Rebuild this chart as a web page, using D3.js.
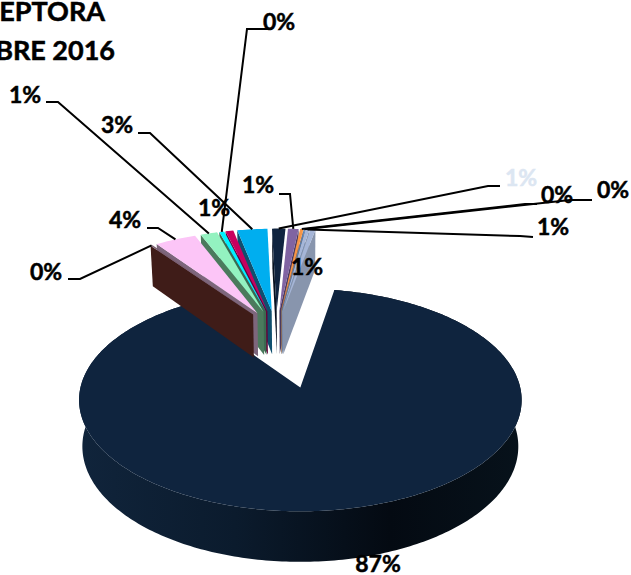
<!DOCTYPE html>
<html>
<head>
<meta charset="utf-8">
<script src="https://d3js.org/d3.v7.min.js"></script>
<style>
html, body { margin: 0; padding: 0; background: #fff; }
svg { display: block; }
text { font-family: Lato, "Open Sans", sans-serif; font-weight: 700; stroke-width: 0.5; }
</style>
</head>
<body>
<svg width="631" height="575"></svg>
<script>
// values, first slice is the big one then clockwise
var slices = ["a", "b", "c", "d", "e", "f", "g", "h", "i", "j", "k", "l", "m"];
var values = [87.2, 0.2, 3.7, 1.5, 0.45, 0.7, 2.7, 1.2, 0.95, 0.3, 0.1, 0.35, 0.45];
var labels = ["87%", "0%", "4%", "1%", "0%", "1%", "3%", "1%", "1%", "0%", "0%", "1%", "1%"];
var titleLines = ["EPTORA", "BRE 2016"];

var topColors = ["#0f243e", "#7a5f72", "#fcc5f7", "#93f2c0", "#00f0ff", "#c8005f", "#00aeef", "#10243f", "#8064a2", "#f79646", "#4f81bd", "#a6b6d8", "#a6b6d8"];
var sideColors = ["#0a1828", "#3f1c18", "#7d667c", "#4b7a5d", "#3a6a50", "#66003a", "#0f4f6e", "#081220", "#4a3a60", "#c0783a", "#3d6390", "#8895ad", "#8895ad"];
var labelColors = ["#000", "#000", "#000", "#000", "#000", "#000", "#000", "#dce6f2", "#000", "#000", "#000", "#000", "#000"];

// label centre, then the two leader points that go with it (null = no leader)
var labelPos = [[378, 564], [46, 272], [125, 220], [25, 95], [279, 22], [214, 208], [117, 125], [521, 178], [258, 185], [557, 195], [613, 190], [553, 227], [307, 267]];
var elbows = [null, [[68, 279], [80, 279]], [[147, 228], [158, 228]], [[46, 102], [58, 102]], [[272, 29], [247, 29]], null, [[138, 133], [150, 133]],
    [[500, 186], [488, 186]], [[279, 194], [290, 194]], [[537, 204], [525, 204]], [[592, 200], [570, 200]], [[533, 237], [520, 236]], null];

var svg = d3.select("svg");

// ground plane model: unit radius pie, seen with some perspective
var cx = 300, cy = 388, rx = 220, ry = 110, persp = 0.112, depth = 46;
var hub = [-0.115, 0.56];
var bigExplode = 0.57, smallExplode = 0.2, smallRadius = 0.97, bigNudge = -0.01;
var startDeg = 9.9;

function project(X, Z, bottom) {
    var s = 1 / (1 + persp * Z);
    var x = cx + rx * X * s, y = cy - ry * Z * s;
    if (bottom) {
        x = cx + (x - cx) * 0.985;
        y = y + depth * Math.pow(s, 0.8);
    }
    return [x, y];
}

var pie = d3.pie().sort(null)
    .startAngle(startDeg * Math.PI / 180)
    .endAngle((startDeg + 360) * Math.PI / 180);

var arcs = pie(values).map(function(d, i) {
    var mid = (d.startAngle + d.endAngle) / 2;
    var e = i == 0 ? bigExplode : smallExplode;
    return {
        i: i,
        start: d.startAngle,
        end: d.endAngle,
        mid: mid,
        r: i == 0 ? 1 : smallRadius,
        ox: hub[0] + e * Math.sin(mid) + (i == 0 ? bigNudge : 0),
        oz: hub[1] + e * Math.cos(mid)
    };
});

function rim(a, ang, bottom) {
    return project(a.ox + a.r * Math.sin(ang), a.oz + a.r * Math.cos(ang), bottom);
}

function rimPoints(a, bottom) {
    var n = Math.max(3, Math.ceil((a.end - a.start) * 60));
    return d3.range(n + 1).map(function(k) {
        return rim(a, a.start + (a.end - a.start) * k / n, bottom);
    });
}

var line = d3.line();

var defs = svg.append("defs");
var grad = defs.append("linearGradient")
    .attr("id", "wall")
    .attr("gradientUnits", "userSpaceOnUse")
    .attr("x1", 81).attr("x2", 522).attr("y1", 0).attr("y2", 0);
[[0, "#10243b"], [0.35, "#0b1b2d"], [0.7, "#040a12"], [1, "#07121b"]].forEach(function(s) {
    grad.append("stop").attr("offset", s[0]).attr("stop-color", s[1]);
});

// big slice: wall first, the top face hides the far part of it
var big = arcs[0];
svg.append("path")
    .attr("d", line(rimPoints(big, false).concat(rimPoints(big, true).reverse())) + "Z")
    .attr("fill", "url(#wall)");
svg.append("path")
    .attr("d", line([project(big.ox, big.oz, false)].concat(rimPoints(big, false))) + "Z")
    .attr("fill", topColors[0]);

// small ones from the middle of the fan outwards
var small = arcs.slice(1);
var leftSide = small.filter(function(a) { return a.mid < Math.PI * 2; }).reverse();
var rightSide = small.filter(function(a) { return a.mid >= Math.PI * 2; });

leftSide.concat(rightSide).forEach(function(a) {
    var edge = a.mid < Math.PI * 2 ? a.start : a.end;
    svg.append("path")
        .attr("d", line([
            project(a.ox, a.oz, false), rim(a, edge, false),
            rim(a, edge, true), project(a.ox, a.oz, true)
        ]) + "Z")
        .attr("fill", sideColors[a.i]);
});
leftSide.concat(rightSide).forEach(function(a) {
    svg.append("path")
        .attr("d", line([project(a.ox, a.oz, false)].concat(rimPoints(a, false))) + "Z")
        .attr("fill", topColors[a.i]);
});

// leaders
arcs.forEach(function(a) {
    if (!elbows[a.i]) return;
    svg.append("path")
        .attr("d", line(elbows[a.i].concat([rim(a, a.mid, false)])))
        .attr("fill", "none")
        .attr("stroke", "#000")
        .attr("stroke-width", 2);
});

svg.selectAll("text.pct")
    .data(labels)
    .enter().append("text")
    .attr("class", "pct")
    .attr("x", function(d, i) { return labelPos[i][0]; })
    .attr("y", function(d, i) { return labelPos[i][1]; })
    .attr("dy", "0.36em")
    .attr("text-anchor", "middle")
    .attr("font-size", 23)
    .attr("fill", function(d, i) { return labelColors[i]; })
    .attr("stroke", function(d, i) { return labelColors[i]; })
    .text(function(d) { return d; });

svg.selectAll("text.title")
    .data(titleLines)
    .enter().append("text")
    .attr("class", "title")
    .attr("x", function(d, i) { return i == 0 ? 105 : 115; })
    .attr("y", function(d, i) { return i == 0 ? 21 : 60; })
    .attr("text-anchor", "end")
    .attr("font-size", 27)
    .attr("fill", "#000")
    .attr("stroke", "#000")
    .text(function(d) { return d; });
</script>
</body>
</html>
